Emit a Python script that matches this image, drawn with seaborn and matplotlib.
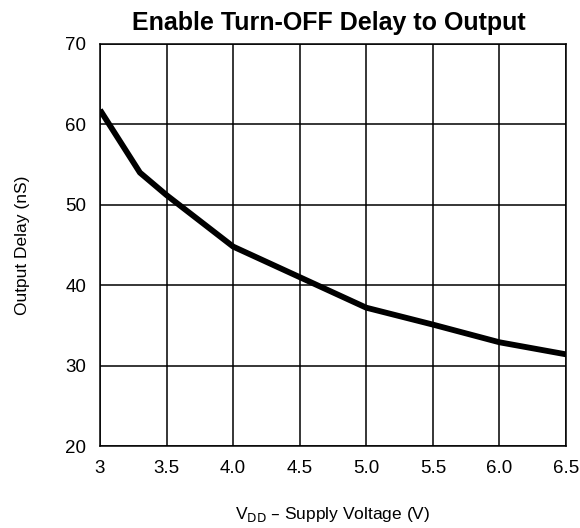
import matplotlib
matplotlib.use("Agg")
import matplotlib.pyplot as plt
import seaborn as sns
import pandas as pd

# --- Veriler ---
vdd = [3.0, 3.3, 3.5, 4.0, 4.5, 5.0, 5.5, 6.0, 6.5]
delay = [61.8, 54.0, 51.2, 44.8, 41.0, 37.2, 35.1, 32.9, 31.4]
x_ticks = [3, 3.5, 4.0, 4.5, 5.0, 5.5, 6.0, 6.5]
x_tick_labels = ["3", "3.5", "4.0", "4.5", "5.0", "5.5", "6.0", "6.5"]
y_ticks = [20, 30, 40, 50, 60, 70]

df = pd.DataFrame({"vdd": vdd, "delay": delay})

sns.set_style("white")
plt.rcParams["font.family"] = ["Liberation Sans", "DejaVu Sans"]
plt.rcParams["text.color"] = "black"
plt.rcParams["axes.labelcolor"] = "black"
plt.rcParams["xtick.color"] = "black"
plt.rcParams["ytick.color"] = "black"

fig = plt.figure(figsize=(5.8, 5.28), dpi=100)
ax = fig.add_axes([0.1724, 0.1553, 0.8035, 0.7614])

sns.lineplot(data=df, x="vdd", y="delay", ax=ax, color="black", linewidth=4.2,
             solid_capstyle="butt", zorder=3)

ax.set_xlim(3, 6.5)
ax.set_ylim(20, 70)
ax.set_xticks(x_ticks)
ax.set_xticklabels(x_tick_labels)
ax.set_yticks(y_ticks)
ax.grid(True, color="black", linewidth=1.1)
for s in ax.spines.values():
    s.set_color("black")
    s.set_linewidth(1.1)
ax.tick_params(axis="both", length=0, labelsize=13.5, pad=10)

ax.set_xlabel("V$_{\\mathrm{DD}}$ – Supply Voltage (V)", fontsize=12.5, labelpad=20)
ax.set_ylabel("Output Delay (nS)", fontsize=12.5, labelpad=25)
ax.set_title("Enable Turn-OFF Delay to Output", fontsize=18, fontweight="heavy",
             x=0.49, pad=10)

fig.savefig("out.png", dpi=100)
